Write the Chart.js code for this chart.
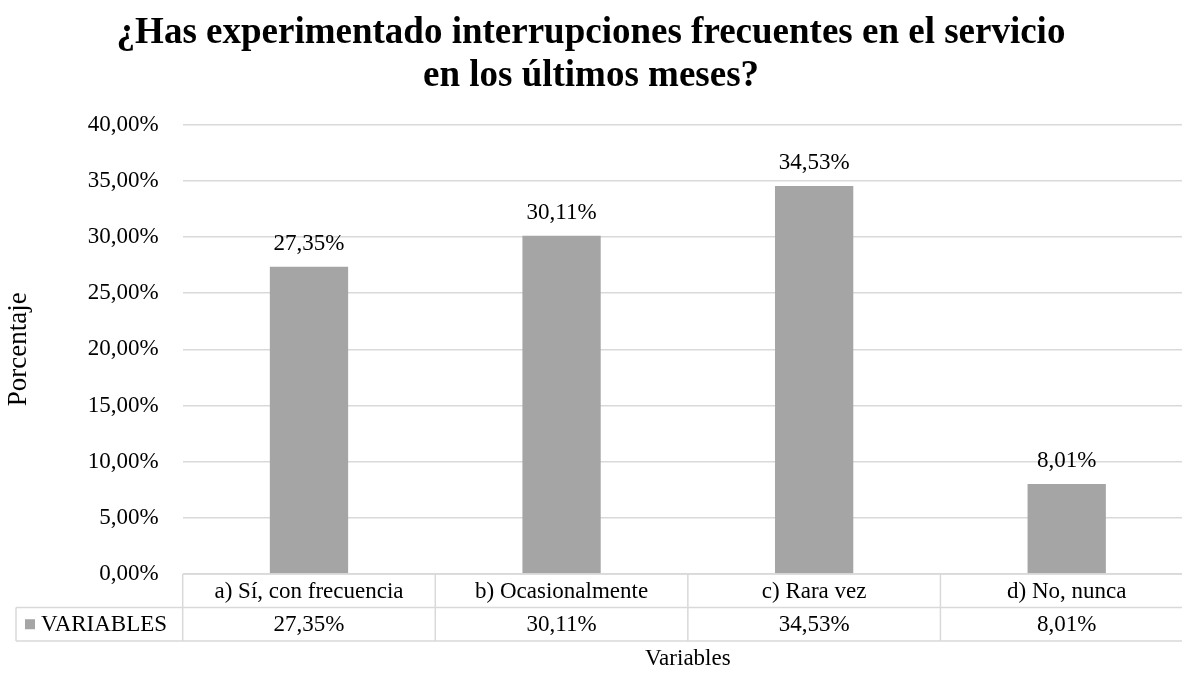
<!DOCTYPE html>
<html>
<head>
<meta charset="utf-8">
<script src="https://cdn.jsdelivr.net/npm/chart.js@4.4.0/dist/chart.umd.min.js"></script>
<style>
  html, body { margin: 0; padding: 0; background: #fff; overflow: hidden; }
  #wrap { width: 1182px; height: 673px; overflow: hidden; }
</style>
</head>
<body>
<!-- el lienzo es algo más ancho que la ventana: el área del gráfico queda cortada a la derecha, como en el original -->
<div id="wrap"><canvas id="chart" width="1204" height="673"></canvas></div>
<script>
var categories = ['a) Sí, con frecuencia', 'b) Ocasionalmente', 'c) Rara vez', 'd) No, nunca'];
var values = [27.35, 30.11, 34.53, 8.01];
var seriesName = 'VARIABLES';
var titleLines = ['¿Has experimentado interrupciones frecuentes en el servicio', 'en los últimos meses?'];

var FONT = "'Liberation Serif', 'Times New Roman', serif";
var BAR = '#A5A5A5';
var GRID = '#D9D9D9';
var TEXT = '#000000';
var FS = 23;

function pct(v) {
    return v.toFixed(2).replace('.', ',') + '%';
}

// etiquetas sobre las barras
var labelsPlugin = {
    id: 'barLabels',
    afterDatasetsDraw: function(chart) {
        var ctx = chart.ctx;
        var meta = chart.getDatasetMeta(0);
        ctx.save();
        ctx.font = FS + 'px ' + FONT;
        ctx.fillStyle = TEXT;
        ctx.textAlign = 'center';
        ctx.textBaseline = 'middle';
        meta.data.forEach(function(bar, i) {
            ctx.fillText(pct(values[i]), bar.x, bar.y - 23);
        });
        ctx.restore();
    }
};

// tabla de datos bajo el eje
var tablePlugin = {
    id: 'dataTable',
    afterDraw: function(chart) {
        var ctx = chart.ctx;
        var x = chart.scales.x;
        var area = chart.chartArea;
        var rowH = 33.5;
        var top = area.bottom;
        var mid = top + rowH;
        var bot = top + rowH * 2;
        var leftCell = 16;
        var step = (area.right - area.left) / categories.length;
        ctx.save();
        ctx.strokeStyle = GRID;
        ctx.lineWidth = 1.5;
        ctx.beginPath();
        ctx.moveTo(area.left, top); ctx.lineTo(area.right, top);
        ctx.moveTo(leftCell, mid); ctx.lineTo(area.right, mid);
        ctx.moveTo(leftCell, bot); ctx.lineTo(area.right, bot);
        ctx.moveTo(leftCell, mid); ctx.lineTo(leftCell, bot);
        for (var i = 0; i <= categories.length; i++) {
            var px = area.left + step * i;
            ctx.moveTo(px, top); ctx.lineTo(px, bot);
        }
        ctx.stroke();

        ctx.font = FS + 'px ' + FONT;
        ctx.fillStyle = TEXT;
        ctx.textAlign = 'center';
        ctx.textBaseline = 'middle';
        categories.forEach(function(c, i) {
            var cx = x.getPixelForValue(i);
            ctx.fillText(c, cx, top + rowH / 2 + 1);
            ctx.fillText(pct(values[i]), cx, mid + rowH / 2 + 1);
        });
        // leyenda
        ctx.fillStyle = BAR;
        ctx.fillRect(25, mid + rowH / 2 - 5, 10, 10);
        ctx.fillStyle = TEXT;
        ctx.textAlign = 'left';
        ctx.fillText(seriesName, 41, mid + rowH / 2 + 1);
        ctx.restore();
    }
};

var ctx = document.getElementById('chart').getContext('2d');
var myChart = new Chart(ctx, {
    type: 'bar',
    data: {
        labels: categories,
        datasets: [{
            label: seriesName,
            data: values,
            backgroundColor: BAR,
            barPercentage: 0.62,
            categoryPercentage: 0.5
        }]
    },
    options: {
        responsive: false,
        animation: false,
        layout: { padding: { top: 0, right: 11, left: -11, bottom: 0 } },
        plugins: {
            legend: { display: false },
            tooltip: { enabled: false },
            title: {
                display: true,
                text: titleLines,
                color: TEXT,
                font: { family: FONT, size: 37, weight: 'bold', lineHeight: 1.17 },
                padding: { top: 12, bottom: 26 }
            }
        },
        scales: {
            x: {
                grid: { display: false, drawTicks: false },
                border: { display: false },
                ticks: { display: false },
                title: {
                    display: true,
                    text: 'Variables',
                    color: TEXT,
                    font: { family: FONT, size: FS },
                    padding: { top: 70, bottom: 0 }
                },
                afterFit: function(scale) { scale.height = 99; }
            },
            y: {
                min: 0,
                max: 40,
                ticks: {
                    stepSize: 5,
                    color: TEXT,
                    padding: 24,
                    font: { family: FONT, size: FS },
                    callback: function(v) { return pct(v); }
                },
                grid: { color: GRID, lineWidth: 1.5, drawTicks: false },
                border: { display: false },
                title: {
                    display: true,
                    text: 'Porcentaje',
                    color: TEXT,
                    font: { family: FONT, size: 27 },
                    padding: { top: 14, bottom: 0 }
                },
                afterFit: function(scale) { scale.width = 193.7; }
            }
        }
    },
    plugins: [labelsPlugin, tablePlugin]
});
</script>
</body>
</html>
